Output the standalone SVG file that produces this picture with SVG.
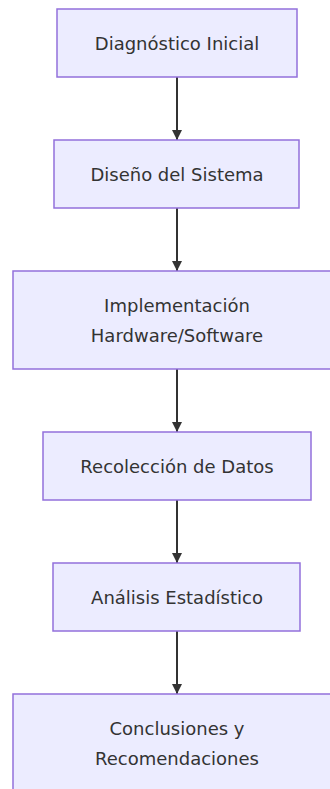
<svg xmlns="http://www.w3.org/2000/svg" width="330" height="789" viewBox="0 0 330 789">
<style>
.node rect{fill:#ECECFF;stroke:#9370DB;stroke-width:1.5}
.node text{font-family:"DejaVu Sans",sans-serif;font-size:18px;fill:#333;text-anchor:middle;dominant-baseline:central}
.edge{stroke:#333;stroke-width:2;fill:none}
</style>
<defs>
<marker id="arr" markerWidth="10" markerHeight="10" refX="10" refY="5" orient="auto" markerUnits="userSpaceOnUse">
<path d="M0,0 L10,5 L0,10 z" fill="#333"/>
</marker>
</defs>
<rect width="330" height="789" fill="#fff"/>
<g id="connectors">
<path class="edge" d="M177,77 L177,140" marker-end="url(#arr)"/>
<path class="edge" d="M177,208 L177,271" marker-end="url(#arr)"/>
<path class="edge" d="M177,369 L177,432" marker-end="url(#arr)"/>
<path class="edge" d="M177,500 L177,563" marker-end="url(#arr)"/>
<path class="edge" d="M177,631 L177,694" marker-end="url(#arr)"/>
</g>
<g id="n1" class="node"><rect x="57" y="9" width="240" height="68"/><text x="177" y="43">Diagnóstico Inicial</text></g>
<g id="n2" class="node"><rect x="54" y="140" width="245" height="68"/><text x="177" y="174">Diseño del Sistema</text></g>
<g id="n3" class="node"><rect x="13" y="271" width="328" height="98"/><text x="177" y="305">Implementación</text><text x="177" y="335">Hardware/Software</text></g>
<g id="n4" class="node"><rect x="43" y="432" width="268" height="68"/><text x="177" y="466">Recolección de Datos</text></g>
<g id="n5" class="node"><rect x="53" y="563" width="247" height="68"/><text x="177" y="597">Análisis Estadístico</text></g>
<g id="n6" class="node"><rect x="13" y="694" width="328" height="98"/><text x="177" y="728">Conclusiones y</text><text x="177" y="758">Recomendaciones</text></g>
</svg>
